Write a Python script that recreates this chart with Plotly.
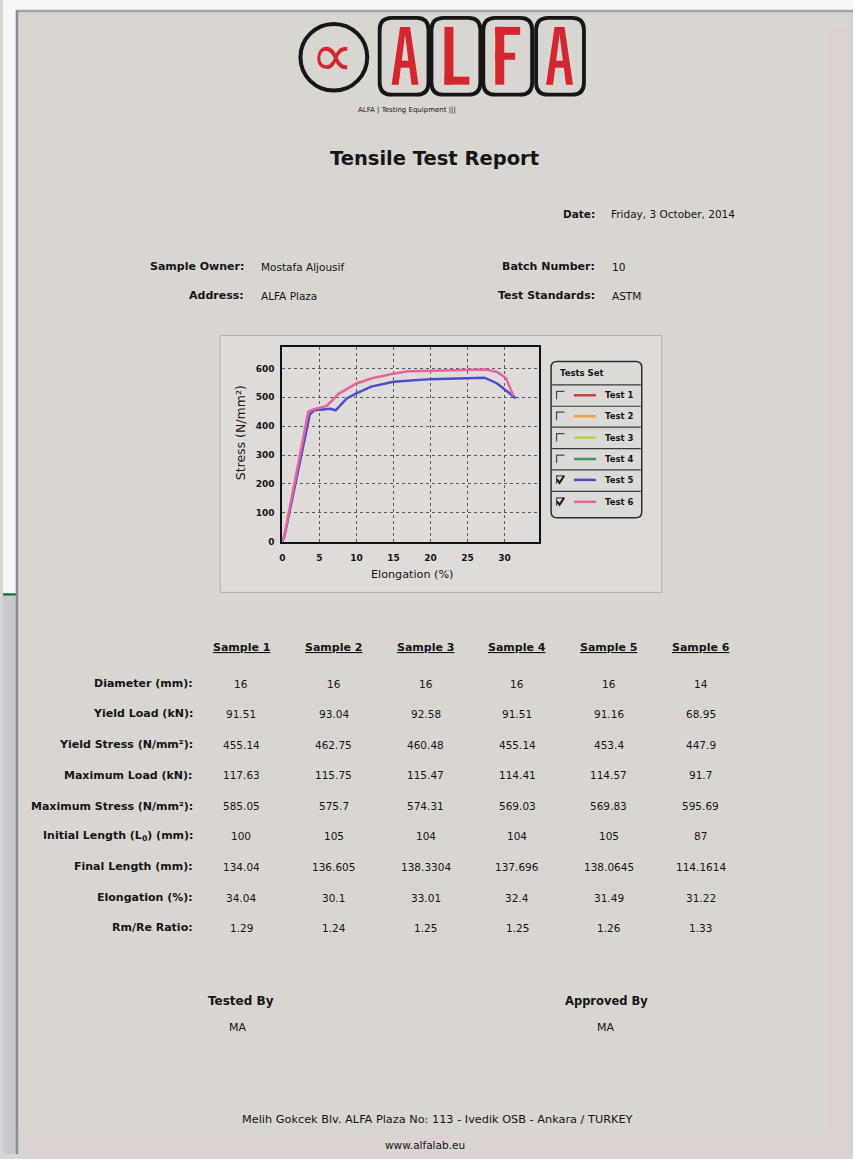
import plotly.graph_objects as go

W, H = 853, 1159
PAGE = "#d9d5d1"
FONT = "DejaVu Sans"
INK = "#161616"
RED = "#d3262f"

# ---------------- chart data ----------------
test_names = ["Test 1", "Test 2", "Test 3", "Test 4", "Test 5", "Test 6"]
test_colors = ["#d23c3c", "#f0a048", "#c8cc3c", "#3c9c50", "#4f4cc8", "#e8649c"]
test_checked = [False, False, False, False, True, True]

test5_elong = [0, 0.3, 3.7, 4.3, 6.5, 7.2, 8.7, 10.0, 12.0, 15.0, 20.0, 25.0, 27.3, 29.0, 30.3, 31.5]
test5_stress = [0, 20, 440, 455, 460, 455, 496, 514, 537, 554, 563, 568, 568, 548, 520, 497]

test6_elong = [0, 0.3, 3.5, 4.2, 6.0, 7.6, 10.0, 12.0, 15.0, 17.0, 20.0, 25.0, 27.5, 29.0, 30.2, 31.2]
test6_stress = [0, 25, 450, 458, 470, 512, 548, 565, 582, 590, 592, 595, 596, 588, 566, 505]

x_ticks = [0, 5, 10, 15, 20, 25, 30]
y_ticks = [0, 100, 200, 300, 400, 500, 600]

# ---------------- report data ----------------
report_date = "Friday, 3 October, 2014"
sample_owner = "Mostafa Aljousif"
address = "ALFA Plaza"
batch_number = "10"
test_standard = "ASTM"

samples = ["Sample 1", "Sample 2", "Sample 3", "Sample 4", "Sample 5", "Sample 6"]
row_labels = ["Diameter (mm):", "Yield Load (kN):", "Yield Stress (N/mm²):", "Maximum Load (kN):",
              "Maximum Stress (N/mm²):", "Initial Length (L<sub>0</sub>) (mm):", "Final Length (mm):",
              "Elongation (%):", "Rm/Re Ratio:"]
diameter = ["16", "16", "16", "16", "16", "14"]
yield_load = ["91.51", "93.04", "92.58", "91.51", "91.16", "68.95"]
yield_stress = ["455.14", "462.75", "460.48", "455.14", "453.4", "447.9"]
max_load = ["117.63", "115.75", "115.47", "114.41", "114.57", "91.7"]
max_stress = ["585.05", "575.7", "574.31", "569.03", "569.83", "595.69"]
initial_length = ["100", "105", "104", "104", "105", "87"]
final_length = ["134.04", "136.605", "138.3304", "137.696", "138.0645", "114.1614"]
elongation = ["34.04", "30.1", "33.01", "32.4", "31.49", "31.22"]
rm_re = ["1.29", "1.24", "1.25", "1.25", "1.26", "1.33"]
table_rows = [diameter, yield_load, yield_stress, max_load, max_stress,
              initial_length, final_length, elongation, rm_re]

tested_by = "MA"
approved_by = "MA"
footer_address = "Melih Gokcek Blv. ALFA Plaza No: 113 - Ivedik OSB - Ankara / TURKEY"
footer_web = "www.alfalab.eu"


# ---------------- helpers (pixel -> paper) ----------------
def X(v):
    return v / W


def Y(v):
    return 1 - v / H


shapes = []
annots = []


def rect(x0, y0, x1, y1, fill=None, line=None, lw=0, layer="below"):
    shapes.append(dict(type="rect", xref="paper", yref="paper", x0=X(x0), x1=X(x1), y0=Y(y1), y1=Y(y0),
                       fillcolor=fill or "rgba(0,0,0,0)",
                       line=dict(color=line or "rgba(0,0,0,0)", width=lw), layer=layer))


def seg(x0, y0, x1, y1, color, lw, layer="below"):
    shapes.append(dict(type="line", xref="paper", yref="paper", x0=X(x0), x1=X(x1), y0=Y(y0), y1=Y(y1),
                       line=dict(color=color, width=lw), layer=layer))


def pstr(cmds):
    out = []
    for c in cmds:
        op, nums = c[0], c[1:]
        pts = [f"{X(nums[i]):.5f},{Y(nums[i + 1]):.5f}" for i in range(0, len(nums), 2)]
        out.append(op + " ".join(pts))
    return " ".join(out)


def path(cmds, fill=None, line=None, lw=0, layer="below"):
    shapes.append(dict(type="path", xref="paper", yref="paper", path=pstr(cmds),
                       fillcolor=fill or "rgba(0,0,0,0)",
                       line=dict(color=line or "rgba(0,0,0,0)", width=lw), layer=layer))


def poly(pts):
    return [("M",) + pts[0]] + [("L",) + p for p in pts[1:]] + [("Z",)]


def rrect(x0, y0, x1, y1, r):
    return [("M", x0 + r, y0), ("L", x1 - r, y0), ("Q", x1, y0, x1, y0 + r), ("L", x1, y1 - r),
            ("Q", x1, y1, x1 - r, y1), ("L", x0 + r, y1), ("Q", x0, y1, x0, y1 - r), ("L", x0, y0 + r),
            ("Q", x0, y0, x0 + r, y0), ("Z",)]


def text(x, y, s, size=10.5, bold=False, anchor="center", color=INK, angle=0, italic=False):
    t = s
    if bold:
        t = f"<b>{t}</b>"
    if italic:
        t = f"<i>{t}</i>"
    annots.append(dict(xref="paper", yref="paper", x=X(x), y=Y(y), text=t, showarrow=False,
                       xanchor=anchor, yanchor="middle", textangle=angle, borderpad=0,
                       font=dict(family=FONT, size=size, color=color)))


# ---------------- page frame ----------------
rect(0, 0, W, 10, fill="#f6f6f6")
rect(0, 0, 13, 597, fill="#f7f7f7")
rect(0, 598, 13, H, fill="#c7c9cc")
seg(0, 597, 14, 597, "#1d7a45", 2.5)
rect(828, 30, 849, H, fill="#dcd3d1")
rect(849, 12, W, H, fill="#d2d1d0")
rect(14, 1139, 849, H, fill="#dcd3d3")
seg(13, 11, W, 11, "#a2a2a2", 2.5)
seg(14, 10, 14, H, "#8e8e8e", 2.5)

# ---------------- logo ----------------
shapes.append(dict(type="circle", xref="paper", yref="paper", x0=X(332 - 33.5), x1=X(332 + 33.5),
                   y0=Y(57.5 + 33.5), y1=Y(57.5 - 33.5), line=dict(color=INK, width=4),
                   fillcolor="rgba(0,0,0,0)", layer="below"))
text(331, 55, "∝", size=60, color=RED)

boxes = [(378, 427), (430, 479), (482, 531), (535, 583)]
for bx0, bx1 in boxes:
    path(rrect(bx0, 18, bx1, 95, 12), line=INK, lw=3.8)


def letter_A(cx):
    return [
        poly([(cx - 13.5, 85), (cx - 5, 27), (cx + 1, 27), (cx - 6.5, 85)]),
        poly([(cx - 1, 27), (cx + 5, 27), (cx + 13.5, 85), (cx + 6.5, 85)]),
        poly([(cx - 9, 61), (cx + 9, 61), (cx + 9, 68), (cx - 9, 68)]),
    ]


letter_parts = []
letter_parts += letter_A(403.5)
letter_parts += [poly([(443, 27), (452, 27), (452, 85), (443, 85)]),
                 poly([(443, 77), (468, 77), (468, 85), (443, 85)])]
letter_parts += [poly([(494, 27), (503, 27), (503, 85), (494, 85)]),
                 poly([(494, 27), (519, 27), (519, 35), (494, 35)]),
                 poly([(494, 53), (514, 53), (514, 60), (494, 60)])]
letter_parts += letter_A(558.5)
for part in letter_parts:
    path(part, fill=RED)

text(405, 110, "ALFA | Testing Equipment |||", size=7)
text(433, 159, "Tensile Test Report", size=19.5, bold=True)

# ---------------- header info ----------------
text(595, 215, "Date:", size=10.5, bold=True, anchor="right")
text(609, 215, report_date, size=10.5, anchor="left")
text(243, 268, "Sample Owner:", size=11, bold=True, anchor="right")
text(258, 268, sample_owner, size=10.5, anchor="left")
text(243, 297, "Address:", size=11, bold=True, anchor="right")
text(258, 297, address, size=10.5, anchor="left")
text(595, 268, "Batch Number:", size=11, bold=True, anchor="right")
text(610, 268, batch_number, size=10.5, anchor="left")
text(595, 297, "Test Standards:", size=11, bold=True, anchor="right")
text(610, 297, test_standard, size=10.5, anchor="left")

# ---------------- chart panel ----------------
rect(218, 337, 661, 595, fill="#dedbd8", line="#b3b0ac", lw=1)
text(410, 577, "Elongation (%)", size=11.2)
text(238, 435, "Stress (N/mm²)", size=12.5, angle=-90)

# legend ("Tests Set")
path(rrect(550, 363, 641, 520, 6), fill="#dcdad7", line="#2e2e2e", lw=1.5)
text(558, 375, "Tests Set", size=8.5, bold=True, anchor="left")
row_sep = [386.5, 408, 429, 450.5, 472, 493.5]
row_mid = [397, 418, 439.5, 461, 482, 504]
for ys in row_sep:
    seg(551, ys, 640, ys, "#3a3a3a", 1.2)
for name, col, chk, ym in zip(test_names, test_colors, test_checked, row_mid):
    path([("M", 555.5, ym + 4), ("L", 555.5, ym - 4), ("L", 563.5, ym - 4)], line="#4a4a4a", lw=1.2)
    if chk:
        path([("M", 556, ym - 0.5), ("L", 558.5, ym + 3), ("L", 563, ym - 4)], line=INK, lw=2)
    seg(573, ym, 595, ym, col, 2.5)
    text(634, ym, name, size=8.5, bold=True, anchor="right")

# ---------------- table ----------------
col_x = [239, 332, 424, 516, 608, 700]
row_y = [686.5, 717, 748, 778.5, 809.5, 840, 870.5, 901.5, 932]
for cx, s in zip(col_x, samples):
    text(cx, 650.5, f"<u>{s}</u>", size=11, bold=True)
for ry, lab, vals in zip(row_y, row_labels, table_rows):
    text(192, ry, lab, size=11, bold=True, anchor="right")
    for cx, v in zip(col_x, vals):
        text(cx, ry, v, size=10.5)

# ---------------- signatures & footer ----------------
text(239, 1005, "Tested By", size=12, bold=True)
text(235, 1032, tested_by, size=11)
text(606, 1005, "Approved By", size=11.5, bold=True)
text(605, 1032, approved_by, size=11)
text(436, 1124, footer_address, size=11.3)
text(423, 1150, footer_web, size=10.5)

# ---------------- figure ----------------
fig = go.Figure()
fig.add_trace(go.Scatter(x=test5_elong, y=test5_stress, mode="lines", name=test_names[4],
                         line=dict(color=test_colors[4], width=2.5)))
fig.add_trace(go.Scatter(x=test6_elong, y=test6_stress, mode="lines", name=test_names[5],
                         line=dict(color=test_colors[5], width=2.5)))

axis_common = dict(showgrid=True, gridcolor="#5a5a5a", griddash="dot", gridwidth=1, showline=True,
                   mirror=True, linecolor="#111111", linewidth=2, zeroline=False, ticks="outside",
                   tickcolor="rgba(0,0,0,0)", fixedrange=True,
                   tickfont=dict(family=FONT, size=9, color=INK, weight="bold"))
fig.update_layout(
    width=W, height=H, margin=dict(l=0, r=0, t=0, b=0),
    paper_bgcolor=PAGE, plot_bgcolor="rgba(0,0,0,0)", showlegend=False,
    xaxis=dict(domain=[X(280.3), X(538.3)], range=[0, 34.7], tickvals=x_ticks, ticklen=7, **axis_common),
    yaxis=dict(domain=[Y(544), Y(348.3)], range=[0, 675], tickvals=y_ticks, ticklen=4, **axis_common),
    shapes=shapes, annotations=annots,
)

fig.write_html("out.html", config={"displayModeBar": False},
               post_script="document.body.style.margin='0';")
